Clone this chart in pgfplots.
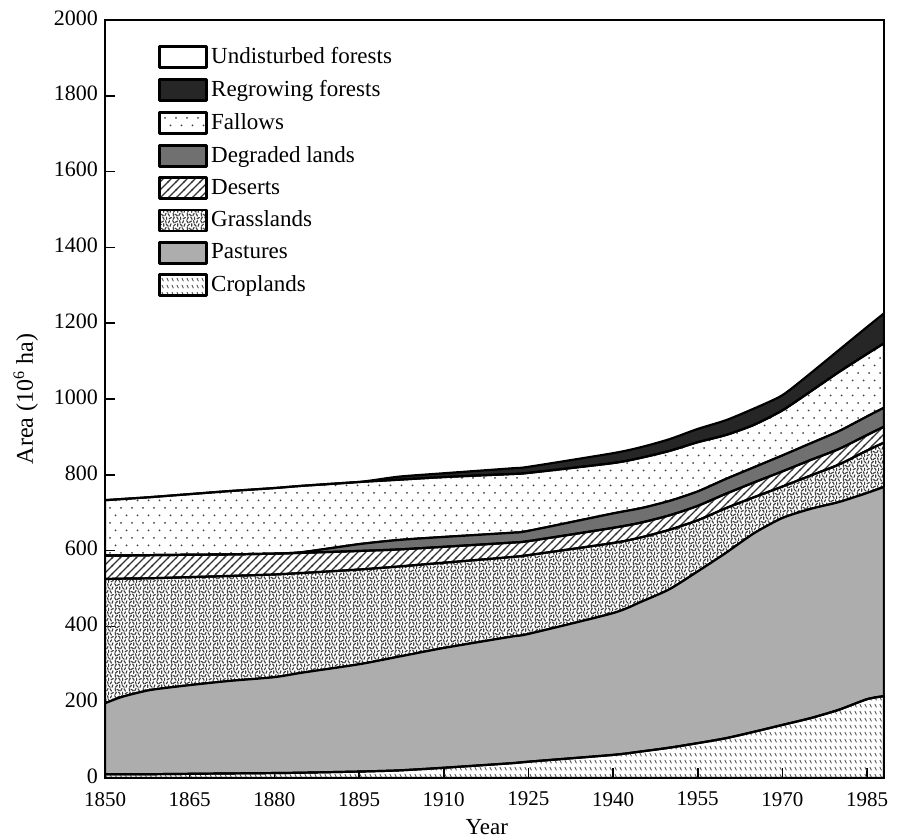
\documentclass[border=0pt]{standalone}
\usepackage{fontspec}
\setmainfont{Liberation Serif}
\usepackage{pgfplots}
\usepackage{pgfplotstable}
\pgfplotsset{compat=1.18}
\usetikzlibrary{patterns}

% fill patterns of the scanned figure
\newdimen\gu \gu=0.8pt
\pgfdeclarepatternformonly{fallowdots}{\pgfqpoint{-1pt}{-1pt}}{\pgfqpoint{6.5pt}{8.5pt}}{\pgfqpoint{5.5pt}{7.5pt}}{%
  \pgfpathcircle{\pgfqpoint{0pt}{0pt}}{0.5pt}%
  \pgfpathcircle{\pgfqpoint{2.75pt}{3.75pt}}{0.5pt}%
  \pgfusepath{fill}}
\pgfdeclarepatternformonly{deserthatch}{\pgfqpoint{-0.5pt}{-0.5pt}}{\pgfqpoint{4.5pt}{4.5pt}}{\pgfqpoint{4pt}{4pt}}{%
  \pgfsetlinewidth{0.55pt}%
  \pgfpathmoveto{\pgfqpoint{-0.5pt}{-0.5pt}}\pgfpathlineto{\pgfqpoint{4.5pt}{4.5pt}}%
  \pgfusepath{stroke}}
\pgfdeclarepatternformonly{cropdash}{\pgfqpoint{0pt}{0pt}}{\pgfqpoint{2.6pt}{3.3pt}}{\pgfqpoint{2.6pt}{3.3pt}}{%
  \pgfsetlinewidth{0.5pt}%
  \pgfpathmoveto{\pgfqpoint{0.5pt}{2.6pt}}\pgfpathlineto{\pgfqpoint{1.4pt}{0.9pt}}%
  \pgfusepath{stroke}}
\newcommand\gd[4]{\pgfpathmoveto{\pgfpoint{#1\gu}{#2\gu}}\pgfpathlineto{\pgfpoint{#3\gu}{#4\gu}}}
\pgfdeclarepatternformonly{grassdash}{\pgfqpoint{0pt}{0pt}}{\pgfqpoint{7.2pt}{7.2pt}}{\pgfqpoint{7.2pt}{7.2pt}}{%
  \pgfsetlinewidth{0.6pt}%
  \pgfsetroundcap
  \gd{0.67}{0.36}{1.53}{1.84}\gd{3.93}{0.46}{3.07}{1.94}\gd{5.6}{0.3}{5.6}{1.85}\gd{7.16}{0.77}{8.64}{1.63}%
  \gd{1.05}{2.56}{0.75}{4.24}\gd{3.44}{2.87}{1.96}{3.73}\gd{4.37}{2.76}{5.23}{4.24}\gd{7.43}{2.56}{6.57}{4.04}%
  \gd{1.0}{5.1}{2.2}{6.3}\gd{3.7}{4.95}{3.7}{6.65}\gd{6.6}{5.0}{5.4}{6.2}\gd{7.81}{5.0}{8.39}{6.6}%
  \gd{1.33}{7.16}{0.47}{8.64}\gd{2.16}{7.57}{3.64}{8.43}\gd{5.25}{6.96}{4.95}{8.64}\gd{6.77}{7.26}{7.5}{8.6}%
  \pgfusepath{stroke}}

% land use, 10^6 ha, thickness of each layer (bottom to top)
\pgfplotstableread{
year crop past grass desert degr fallow regrow
1850  10 187 328 62  0 146  0
1853  10 204 312 61  0 149  0
1858  10 222 295 61  0 153  0
1865  11 234 285 59  0 160  0
1872  12 244 277 57  0 167  0
1880  13 253 271 55  0 173  0
1885  14 264 263 53  2 175  0
1895  17 283 250 49 18 164  0
1902  20 300 238 45 25 159  8
1910  27 316 225 42 26 158 10
1922  39 334 210 38 26 155 15
1925  43 337 208 37 27 153 16
1940  61 374 185 40 38 133 26
1945  70 395 170 39 38 133 28
1950  80 418 157 38 38 132 31
1955  92 453 135 38 38 130 35
1960 105 489 118 38 39 116 39
1965 122 524  95 39 40 112 43
1970 140 546  83 40 42 119 40
1975 158 552  88 41 44 137 48
1980 180 548  99 41 47 156 58
1985 208 544 112 41 49 165 71
1988 216 552 117 42 50 170 79
}\landuse

\definecolor{pasture}{gray}{0.68}
\definecolor{degraded}{gray}{0.44}
\definecolor{regrow}{gray}{0.15}

\begin{document}
\begin{tikzpicture}
\begin{axis}[
  width=389.5pt, height=379pt, scale only axis,
  xmin=1850, xmax=1988, ymin=0, ymax=2000,
  xtick={1850,1865,...,1985}, ytick={0,200,...,2000},
  xtick pos=bottom, ytick pos=left, tick align=inside,
  major tick length=5pt,
  axis line style={line width=1pt},
  every tick/.style={black, line width=0.8pt},
  /pgf/number format/1000 sep={},
  /pgf/number format/assume math mode=true,
  xticklabel style={font=\fontsize{10.5}{12}\selectfont, yshift=-3.5pt},
  yticklabel style={font=\fontsize{11}{12}\selectfont, yshift=1pt},
  xlabel={Year},
  ylabel={Area (10\textsuperscript{6} ha)},
  every axis x label/.style={at={(rel axis cs:0.49,-0.065)}, anchor=center, font=\fontsize{11.5}{13}\selectfont},
  every axis y label/.style={at={(rel axis cs:-0.077,0.5)}, rotate=90, anchor=south, font=\fontsize{12}{14}\selectfont},
  stack plots=y,
  every axis plot/.append style={draw=black, line width=1.1pt, line join=round, smooth, tension=0.4},
  legend image code/.code={\draw[#1, draw=black, line width=1.4pt, sharp plot] (0pt,-5.25pt) rectangle (23.5pt,5.25pt);},
  reverse legend,
  legend cell align=left,
  legend style={draw=none, fill=none, inner sep=0pt,
    at={(rel axis cs:0.068,0.968)}, anchor=north west,
    font=\fontsize{11.5}{13}\selectfont, row sep=3.9pt,
    nodes={inner sep=1.5pt}},
]
\addplot[pattern=cropdash, pattern color=black!65] table[x=year, y=crop] {\landuse} \closedcycle;
\addlegendentry{Croplands}
\addplot[fill=pasture] table[x=year, y=past] {\landuse} \closedcycle;
\addlegendentry{Pastures}
\addplot[pattern=grassdash, pattern color=black!75] table[x=year, y=grass] {\landuse} \closedcycle;
\addlegendentry{Grasslands}
\addplot[pattern=deserthatch, pattern color=black!80] table[x=year, y=desert] {\landuse} \closedcycle;
\addlegendentry{Deserts}
\addplot[fill=degraded] table[x=year, y=degr] {\landuse} \closedcycle;
\addlegendentry{Degraded lands}
\addplot[pattern=fallowdots, pattern color=black!75] table[x=year, y=fallow] {\landuse} \closedcycle;
\addlegendentry{Fallows}
\addplot[fill=regrow] table[x=year, y=regrow] {\landuse} \closedcycle;
\addlegendentry{Regrowing forests}
\addlegendimage{fill=white}
\addlegendentry{Undisturbed forests}
\coordinate (ll) at (rel axis cs:0,0);
\coordinate (ur) at (rel axis cs:1,1);
\end{axis}
\pgfresetboundingbox
\path[use as bounding box] ([shift={(-52.5pt,-30pt)}]ll) rectangle ([shift={(9.5pt,10pt)}]ur);
\end{tikzpicture}
\end{document}
